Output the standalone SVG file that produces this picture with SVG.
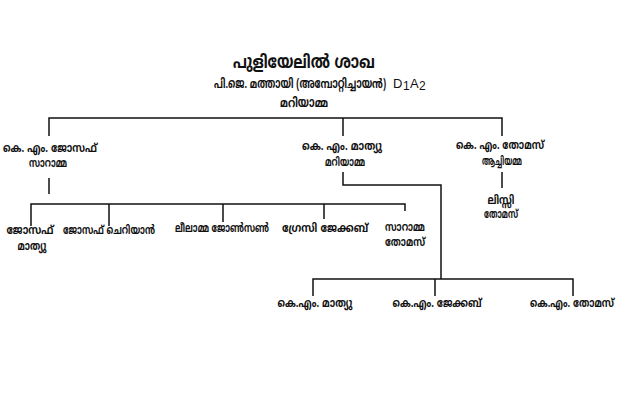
<svg xmlns="http://www.w3.org/2000/svg" width="624" height="415" viewBox="0 0 624 415">
<style>
text{font-family:"Noto Sans Malayalam","Noto Sans","DejaVu Sans",sans-serif;font-size:12px;font-weight:bold;fill:#111;text-anchor:middle}
.t{font-size:18px}
.h{font-size:13px}
.lat{font-family:"Liberation Sans",sans-serif;font-weight:normal;font-size:13px;text-anchor:start}
.sub{font-size:12px}
#connectors path{fill:none;stroke:#111;stroke-width:1.5}
</style>
<rect width="624" height="415" fill="#fff"/>
<g id="connectors">
<path d="M49,136V118H502V136M343,118V136"/>
<path d="M49,178V194"/>
<path d="M31,226V204H405V211M109,204V226M223,204V222M324,204V219"/>
<path d="M343,172V185H441V279"/>
<path d="M313,296V279H573V296M435,279V296"/>
<path d="M502,172V188"/>
</g>
<g id="title">
<text class="t" x="304" y="68" textLength="142" lengthAdjust="spacingAndGlyphs">പുളിയേലിൽ ശാഖ</text>
<text class="h" x="214" y="88" style="text-anchor:start" textLength="172" lengthAdjust="spacingAndGlyphs">പി.ജെ. മത്തായി (അമ്പോറ്റിച്ചായൻ)</text>
<text class="lat" x="393" y="88">D</text>
<text class="lat sub" x="403" y="90">1</text>
<text class="lat" x="410" y="88">A</text>
<text class="lat sub" x="419" y="90">2</text>
<text class="h" x="304" y="107" textLength="48" lengthAdjust="spacingAndGlyphs">മറിയാമ്മ</text>
</g>
<g id="n-joseph"><text x="50" y="152" textLength="94" lengthAdjust="spacingAndGlyphs">കെ. എം. ജോസഫ്</text><text x="48" y="167" textLength="38" lengthAdjust="spacingAndGlyphs">സാറാമ്മ</text></g>
<g id="n-mathew"><text x="342" y="150" textLength="80" lengthAdjust="spacingAndGlyphs">കെ. എം. മാത്യു</text><text x="345" y="166" textLength="40" lengthAdjust="spacingAndGlyphs">മറിയാമ്മ</text></g>
<g id="n-thomas"><text x="500" y="149" textLength="88" lengthAdjust="spacingAndGlyphs">കെ. എം. തോമസ്</text><text x="502" y="165" textLength="40" lengthAdjust="spacingAndGlyphs">ആച്ചിയമ്മ</text></g>
<g id="n-lissy"><text x="501" y="204" textLength="27" lengthAdjust="spacingAndGlyphs">ലിസ്സി</text><text x="501" y="218" textLength="34" lengthAdjust="spacingAndGlyphs">തോമസ്</text></g>
<g id="n-josephmathew"><text x="30" y="234" textLength="47" lengthAdjust="spacingAndGlyphs">ജോസഫ്</text><text x="32" y="250" textLength="29" lengthAdjust="spacingAndGlyphs">മാത്യു</text></g>
<g id="n-josephcherian"><text x="109" y="234" textLength="92" lengthAdjust="spacingAndGlyphs">ജോസഫ് ചെറിയാൻ</text></g>
<g id="n-leelamma"><text x="222" y="232" textLength="94" lengthAdjust="spacingAndGlyphs">ലീലാമ്മ ജോൺസൺ</text></g>
<g id="n-gracy"><text x="325" y="232" textLength="86" lengthAdjust="spacingAndGlyphs">ഗ്രേസി ജേക്കബ്</text></g>
<g id="n-saramma"><text x="405" y="231" textLength="40" lengthAdjust="spacingAndGlyphs">സാറാമ്മ</text><text x="405" y="246" textLength="40" lengthAdjust="spacingAndGlyphs">തോമസ്</text></g>
<g id="n-kmmathew"><text x="315" y="307" textLength="75" lengthAdjust="spacingAndGlyphs">കെ.എം. മാത്യു</text></g>
<g id="n-kmjacob"><text x="437" y="307" textLength="89" lengthAdjust="spacingAndGlyphs">കെ.എം. ജേക്കബ്</text></g>
<g id="n-kmthomas"><text x="572" y="307" textLength="84" lengthAdjust="spacingAndGlyphs">കെ.എം. തോമസ്</text></g>
</svg>
